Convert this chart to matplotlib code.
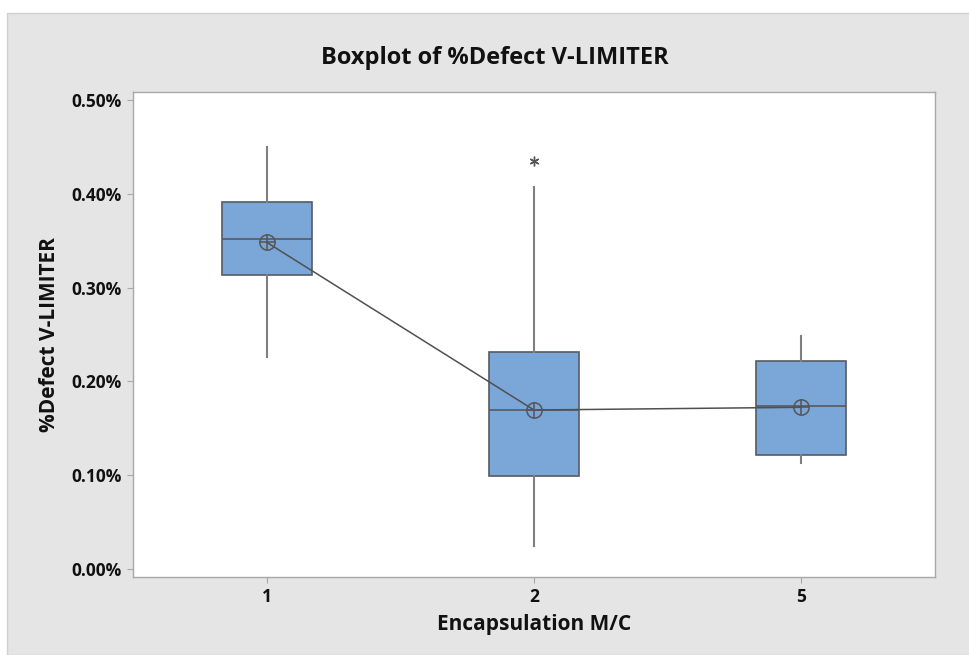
import matplotlib
matplotlib.use("Agg")
import matplotlib.pyplot as plt
from matplotlib.patches import Rectangle
from matplotlib.ticker import FuncFormatter

plt.rcParams['font.family'] = ['Open Sans', 'DejaVu Sans']

# values, in % units
machines = ['1', '2', '5']
q1 = [0.3134, 0.0995, 0.1215]
med = [0.3515, 0.1692, 0.1741]
q3 = [0.3916, 0.2310, 0.2221]
whislo = [0.2263, 0.0245, 0.1127]
whishi = [0.4496, 0.4069, 0.2484]
means = [0.3483, 0.1695, 0.1724]
outliers = [[], [0.4353], []]

fig = plt.figure(figsize=(9.69, 6.55), dpi=100)
fig.patch.set_facecolor('white')
# gray panel behind the chart
fig.patches.append(Rectangle((7 / 969, 0), 1, 1 - 13 / 655, transform=fig.transFigure,
                             facecolor='#e5e5e5', edgecolor='#d0d0d0', lw=1, zorder=-10))

ax = fig.add_axes([133 / 969, 1 - 577 / 655, (935 - 133) / 969, (577 - 92) / 655])
ax.set_facecolor('white')

stats = []
for i in range(len(machines)):
    stats.append(dict(label=machines[i], q1=q1[i], med=med[i], q3=q3[i],
                      whislo=whislo[i], whishi=whishi[i], fliers=outliers[i]))

pos = list(range(1, len(machines) + 1))
ax.bxp(stats, positions=pos, widths=0.337, patch_artist=True, showcaps=False,
       boxprops=dict(facecolor='#7ba6d8', edgecolor='#555b63', lw=1.2),
       medianprops=dict(color='#555b63', lw=1.2),
       whiskerprops=dict(color='#7f7f7f', lw=1.5),
       flierprops=dict(marker=(6, 2, 0), markersize=7, markeredgecolor='#555555',
                       markeredgewidth=1.0, linestyle='none'))

# mean connect line and mean symbols
ax.plot(pos, means, color='#505050', lw=1.1, zorder=3)
ax.plot(pos, means, linestyle='none', marker='o', markersize=11, markerfacecolor='none',
        markeredgecolor='#555555', markeredgewidth=1.1, zorder=4)
ax.plot(pos, means, linestyle='none', marker='+', markersize=11,
        markeredgecolor='#555555', markeredgewidth=1.1, zorder=4)

ax.set_xlim(0.5, 3.5)
ax.set_ylim(-0.0085, 0.5085)
ax.set_yticks([0.0, 0.1, 0.2, 0.3, 0.4, 0.5])
ax.yaxis.set_major_formatter(FuncFormatter(lambda v, p: '%.2f%%' % v))
ax.set_xticks(pos)
ax.set_xticklabels(machines)

for s in ax.spines.values():
    s.set_color('#a8a8a8')
    s.set_linewidth(1.0)
ax.tick_params(direction='out', length=4, color='#a8a8a8', labelsize=12.5,
               labelcolor='#111111', pad=4)
for lab in ax.get_xticklabels() + ax.get_yticklabels():
    lab.set_fontweight('bold')

ax.set_xlabel('Encapsulation M/C', fontsize=15, fontweight='bold', color='#111111', labelpad=6)
ax.set_ylabel('%Defect V-LIMITER', fontsize=15, fontweight='bold', color='#111111', labelpad=8)
fig.text(495 / 969, 1 - 58 / 655, 'Boxplot of %Defect V-LIMITER', ha='center', va='center',
         fontsize=17, fontweight='bold', color='#111111')

fig.savefig('out.png', dpi=100, facecolor=fig.get_facecolor())
